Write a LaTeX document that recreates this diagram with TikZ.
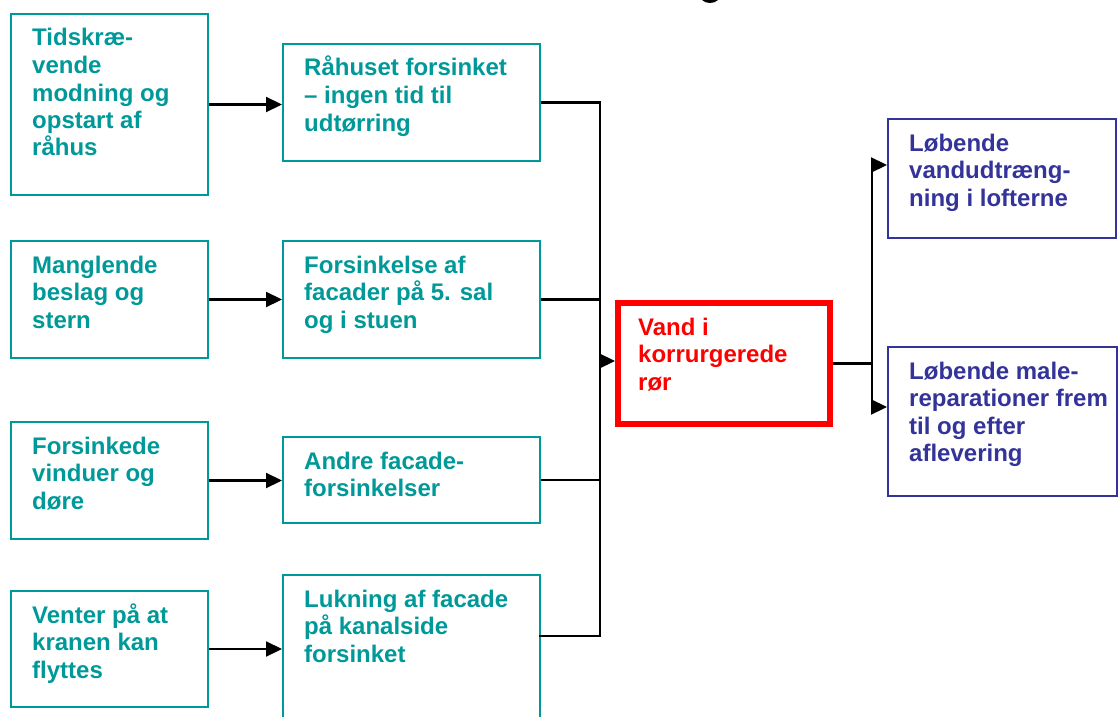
\documentclass[tikz,border=0pt]{standalone}
\usepackage{fontspec}
\setmainfont{Liberation Sans}
\usetikzlibrary{arrows.meta,calc}
\definecolor{tealc}{RGB}{0,153,153}
\definecolor{bluec}{RGB}{51,51,153}
\definecolor{redc}{RGB}{255,0,0}
% #1 name, #2 left, #3 top, #4 width, #5 height, #6 style, #7 text colour, #8 text
\newcommand\mkbox[8]{%
  \node[#6, minimum width=#4pt, minimum height=#5pt] (#1) at (#2,#3) {};
  \node[lbl, text=#7] (#1t) at ($(#1.north west)+(22,33)$) {\parbox[t]{330pt}{\raggedright #8}};
}
\begin{document}
\begin{tikzpicture}[x=1pt,y=-1pt,
  box/.style={draw, line width=2pt, inner sep=0pt, anchor=north west},
  tealbox/.style={box, draw=tealc},
  bluebox/.style={box, draw=bluec},
  redbox/.style={box, draw=redc, line width=6pt},
  lbl/.style={inner sep=0pt, anchor=base west, font=\fontsize{24}{27.5}\selectfont\bfseries},
  conn/.style={line width=2.2pt, draw=black},
  arr/.style={conn, -{Triangle[length=16pt,width=15pt]}}]
\useasboundingbox (0,0) rectangle (1119,717);
\clip (0,0) rectangle (1119,717);
\fill[white] (0,0) rectangle (1119,717);
% fragment of a cut-off title
\fill[black] (702,0) .. controls (706,4) and (714,4) .. (718,0) -- cycle;
% left column
\mkbox{a1}{10}{13}{197}{181}{tealbox}{tealc}{Tidskræ-\\vende\\modning og\\opstart af\\råhus}
\mkbox{a2}{10}{240}{197}{117}{tealbox}{tealc}{Manglende\\beslag og\\stern}
\mkbox{a3}{10}{421}{197}{117}{tealbox}{tealc}{Forsinkede\\vinduer og\\døre}
\mkbox{a4}{10}{590}{197}{116}{tealbox}{tealc}{Venter på at\\kranen kan\\flyttes}
% second column
\mkbox{b1}{282}{43}{257}{117}{tealbox}{tealc}{Råhuset forsinket\\– ingen tid til\\udtørring}
\mkbox{b2}{282}{240}{257}{117}{tealbox}{tealc}{Forsinkelse af\\facader på 5. sal\\og i stuen}
\mkbox{b3}{282}{436}{257}{86}{tealbox}{tealc}{Andre facade-\\forsinkelser}
\mkbox{b4}{282}{574}{257}{170}{tealbox}{tealc}{Lukning af facade\\på kanalside\\forsinket}
% central box
\node[redbox, minimum width=212pt, minimum height=121pt] (c) at (615,300) {};
\node[lbl, text=redc] (ct) at ($(c.north west)+(23,35)$) {\parbox[t]{330pt}{\raggedright Vand i\\korrurgerede\\rør}};
% right column
\mkbox{d1}{887}{118}{228}{119}{bluebox}{bluec}{Løbende\\vandudtræng-\\ning i lofterne}
\mkbox{d2}{887}{346}{229}{149}{bluebox}{bluec}{Løbende male-\\reparationer frem\\til og efter\\aflevering}
% connectors
\coordinate (bus) at (600,361);
\coordinate (b4o) at (539,636);
\coordinate (dbus) at (872,361);
\coordinate (d1in) at (872,165);
\coordinate (d2in) at (872,407);
\draw[arr] (a1.east) -- (a1.east -| b1.west);
\draw[arr] (a2.east) -- (a2.east -| b2.west);
\draw[arr] (a3.east) -- (a3.east -| b3.west);
\draw[arr] (a4.east) -- (a4.east -| b4.west);
\draw[conn] (b1.east) -- (b1.east -| bus) -- (b4o -| bus) -- (b4o);
\draw[conn] (b2.east) -- (b2.east -| bus);
\draw[conn] (b3.east) -- (b3.east -| bus);
\draw[arr] (bus) -- (bus -| c.west);
\draw[conn] (c.east) -- (c.east -| dbus);
\draw[conn] (d1in) -- (d2in);
\draw[arr] (d1in) -- (d1in -| d1.west);
\draw[arr] (d2in) -- (d2in -| d2.west);
\end{tikzpicture}
\end{document}
